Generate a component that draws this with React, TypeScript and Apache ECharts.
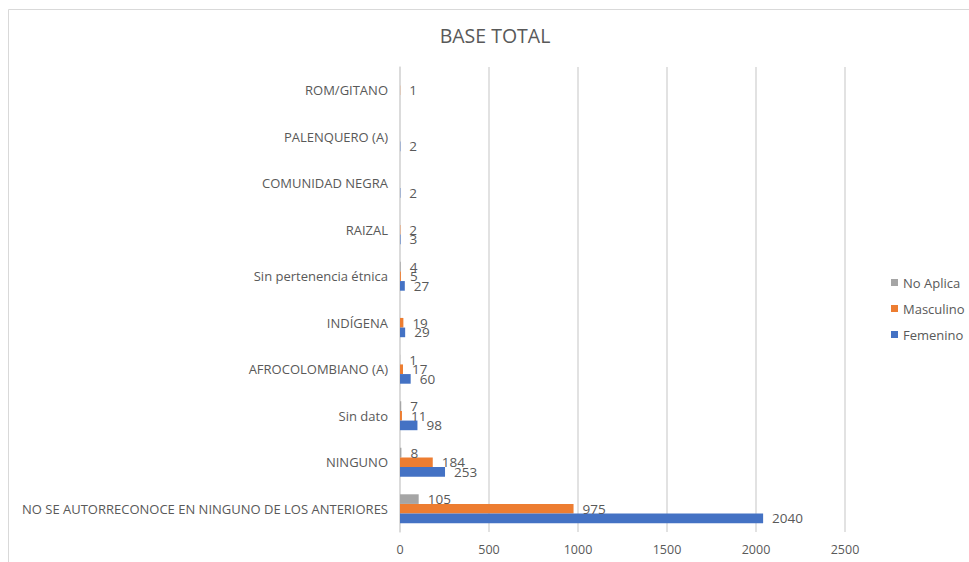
import React, { useEffect, useRef } from "react";
import * as echarts from "echarts";

// Categories, bottom to top
const categories = [
  "NO SE AUTORRECONOCE EN NINGUNO DE LOS ANTERIORES",
  "NINGUNO",
  "Sin dato",
  "AFROCOLOMBIANO (A)",
  "INDÍGENA",
  "Sin pertenencia étnica",
  "RAIZAL",
  "COMUNIDAD NEGRA",
  "PALENQUERO (A)",
  "ROM/GITANO",
];

const femenino: (number | null)[] = [2040, 253, 98, 60, 29, 27, 3, 2, 2, null];
const masculino: (number | null)[] = [975, 184, 11, 17, 19, 5, 2, null, null, 1];
const noAplica: (number | null)[] = [105, 8, 7, 1, null, 4, null, null, null, null];

const xTicks = { min: 0, max: 2500, interval: 500 };

const FONT = "'Open Sans', 'Noto Sans', sans-serif";
const TEXT = "#595959";
const GRID_LINE = "#D9D9D9";

export default function App() {
  const ref = useRef<HTMLDivElement>(null);

  useEffect(() => {
    document.body.style.margin = "0";
    if (!ref.current) return;
    const chart = echarts.init(ref.current, null, { renderer: "svg" });

    const dataLabel = {
      show: true,
      position: "right" as const,
      distance: 9,
      color: TEXT,
      fontFamily: FONT,
      fontSize: 13.5,
    };

    const mkSeries = (name: string, data: (number | null)[], color: string) => ({
      name,
      type: "bar" as const,
      data,
      itemStyle: { color },
      barGap: "0%",
      barCategoryGap: "37.8%",
      label: dataLabel,
    });

    chart.setOption({
      animation: false,
      backgroundColor: "#FFFFFF",
      textStyle: { fontFamily: FONT },
      title: {
        text: "BASE TOTAL",
        left: 490,
        top: 20,
        textAlign: "center",
        textStyle: { color: TEXT, fontFamily: FONT, fontSize: 19.5, fontWeight: "normal" },
      },
      graphic: [
        {
          type: "rect",
          shape: { x: 8.5, y: 9.5, width: 1000, height: 600 },
          style: { fill: "none", stroke: GRID_LINE, lineWidth: 1 },
          silent: true,
        },
      ],
      legend: {
        orient: "vertical",
        left: 886,
        top: 271,
        itemWidth: 7,
        itemHeight: 7,
        itemGap: 13,
        icon: "rect",
        data: ["No Aplica", "Masculino", "Femenino"],
        textStyle: { color: TEXT, fontFamily: FONT, fontSize: 13 },
      },
      grid: { left: 400, right: 124, top: 67, bottom: 30, containLabel: false },
      xAxis: {
        type: "value",
        min: xTicks.min,
        max: xTicks.max,
        interval: xTicks.interval,
        axisLine: { show: false },
        axisTick: { show: false },
        splitLine: { show: true, lineStyle: { color: GRID_LINE, width: 1.5 } },
        axisLabel: {
          color: TEXT,
          fontFamily: FONT,
          fontSize: 12.5,
          margin: 11,
          formatter: (v: number) => String(v),
        },
      },
      yAxis: {
        type: "category",
        data: categories,
        axisLine: { show: true, lineStyle: { color: GRID_LINE, width: 1.5 } },
        axisTick: { show: false },
        axisLabel: { color: TEXT, fontFamily: FONT, fontSize: 13, margin: 12 },
      },
      // Series listed top-to-bottom within each category
      series: [
        mkSeries("No Aplica", noAplica, "#A5A5A5"),
        mkSeries("Masculino", masculino, "#ED7D31"),
        mkSeries("Femenino", femenino, "#4472C4"),
      ],
    });

    return () => chart.dispose();
  }, []);

  return <div ref={ref} style={{ width: 969, height: 562 }} />;
}
